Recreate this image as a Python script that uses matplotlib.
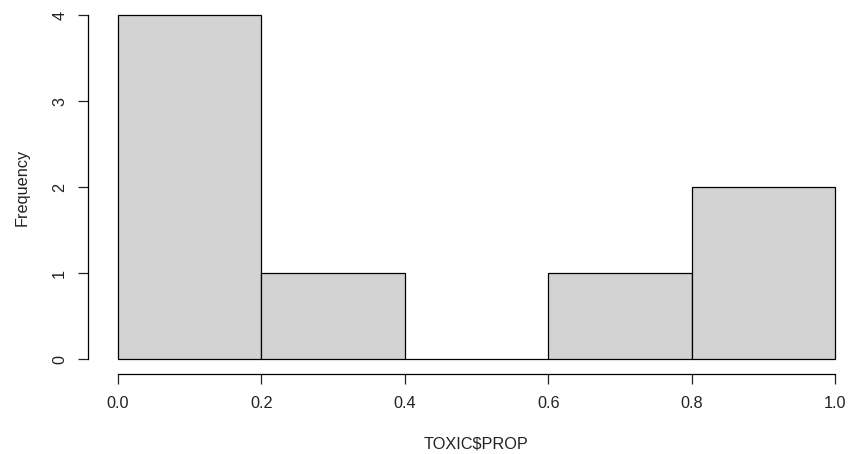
import matplotlib.pyplot as plt
import numpy as np

plt.rcParams['font.family'] = ['Liberation Sans', 'DejaVu Sans']

bin_edges = [0.0, 0.2, 0.4, 0.6, 0.8, 1.0]
counts = [4, 1, 0, 1, 2]
x_ticks = [0.0, 0.2, 0.4, 0.6, 0.8, 1.0]
y_ticks = [0, 1, 2, 3, 4]

W, H = 849, 454
fig = plt.figure(figsize=(W / 100, H / 100), dpi=100)
ax = fig.add_axes([118 / W, (H - 359) / H, (835 - 118) / W, (359 - 15) / H])

edges = np.array(bin_edges)
bars = ax.bar(edges[:-1], counts, width=np.diff(edges), align='edge',
              color='#d3d3d3', edgecolor='black', linewidth=0.9)
for b in bars:
    b.set_clip_on(False)

ax.set_xlim(0, 1)
ax.set_ylim(0, 4)
ax.set_xticks(x_ticks)
ax.set_xticklabels(['%.1f' % v for v in x_ticks])
ax.set_yticks(y_ticks)
ax.set_yticklabels([str(v) for v in y_ticks])

for s in ['top', 'right']:
    ax.spines[s].set_visible(False)
ax.spines['left'].set_position(('outward', 21.6))
ax.spines['bottom'].set_position(('outward', 10.8))
ax.spines['left'].set_bounds(0, 4)
ax.spines['bottom'].set_bounds(0, 1)
for s in ['left', 'bottom']:
    ax.spines[s].set_linewidth(0.9)

fs = 11.7
ax.tick_params(axis='both', length=7, width=0.9, labelsize=fs, colors='#222222')
ax.tick_params(axis='x', pad=9)
ax.tick_params(axis='y', pad=8, labelrotation=90)
for lbl in ax.get_yticklabels():
    lbl.set_va('center')

ax.set_xlabel('TOXIC$PROP', fontsize=fs, labelpad=18, color='#222222')
ax.set_ylabel('Frequency', fontsize=fs, labelpad=16, color='#222222')

fig.savefig('out.png', dpi=100)
